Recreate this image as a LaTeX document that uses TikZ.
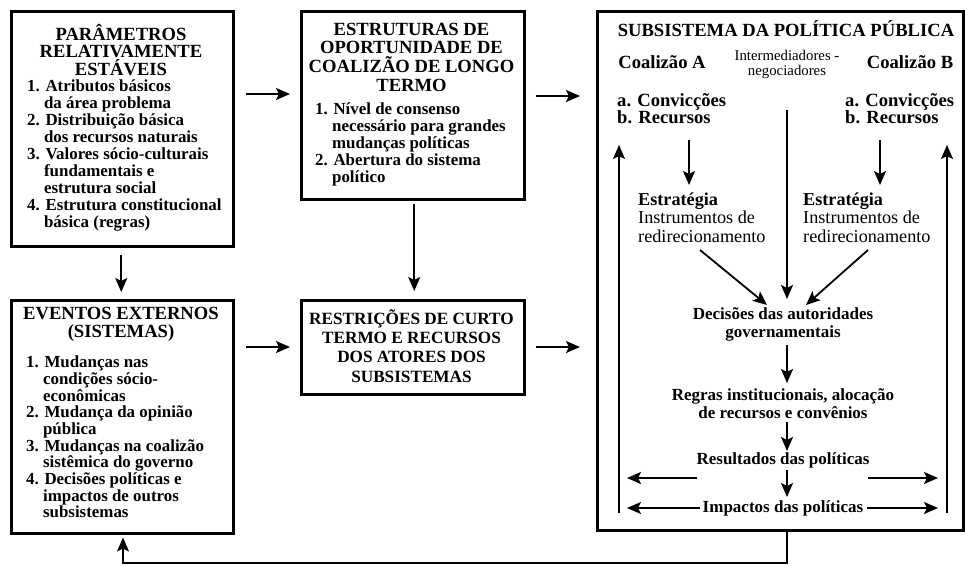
\documentclass[tikz,border=0pt]{standalone}
\usepackage{fontspec}
\setmainfont{Liberation Serif}
\usetikzlibrary{arrows.meta,calc}
\newcommand{\fsz}[2]{\fontsize{#1}{#2}\selectfont}
\newcommand{\lind}{\hphantom{1.~}}
\begin{document}
\begin{tikzpicture}[x=1pt,y=-1pt,
  boxn/.style={draw,line width=2.5pt,rectangle,anchor=north west,inner sep=0pt},
  arr/.style={line width=1.8pt,-{Stealth[length=14pt,width=12pt,inset=3pt]}},
  ttl/.style={font={\bfseries\fsz{18.6}{17.5}},align=center,inner sep=0pt},
  lst/.style={font={\bfseries\fsz{16.9}{16.9}},align=left,inner sep=0pt,anchor=west},
  rb/.style={font={\bfseries\fsz{18.6}{17}},align=left,inner sep=0pt},
  strat/.style={font={\fsz{18.2}{18.5}},align=left,inner sep=0pt,anchor=west},
  flow/.style={font={\bfseries\fsz{17}{17.5}},align=center,inner sep=0pt},
  small/.style={font={\fsz{14.8}{15}},align=center,inner sep=0pt}
]
\useasboundingbox (0,0) rectangle (965,565);

% boxes
\node[boxn,minimum width=222pt,minimum height=235pt] (b1) at (10,10) {};
\node[boxn,minimum width=223pt,minimum height=188pt] (b2) at (300,10) {};
\node[boxn,minimum width=223pt,minimum height=94pt] (b3) at (300,299) {};
\node[boxn,minimum width=222pt,minimum height=233pt] (b4) at (10,299) {};
\node[boxn,minimum width=366pt,minimum height=519pt] (b5) at (596,10) {};

% box 1
\node[ttl] (t1) at (121,50) {PARÂMETROS\\RELATIVAMENTE\\ESTÁVEIS};
\node[lst] (l1) at (27,155.5) {1. Atributos básicos\\
\lind da área problema\\
2. Distribuição básica\\
\lind dos recursos naturais\\
3. Valores sócio-culturais\\
\lind fundamentais e\\
\lind estrutura social\\
4. Estrutura constitucional\\
\lind básica (regras)};

% box 2
\node[ttl,font={\bfseries\fsz{18.6}{18.7}}] (t2) at (411.5,57) {ESTRUTURAS DE\\OPORTUNIDADE DE\\COALIZÃO DE LONGO\\TERMO};
\node[lst,font={\bfseries\fsz{16.9}{17}}] (l2) at (315,144) {1. Nível de consenso\\
\lind necessário para grandes\\
\lind mudanças políticas\\
2. Abertura do sistema\\
\lind político};

% box 3
\node[ttl,font={\bfseries\fsz{17.2}{19.3}}] (t3) at (411.5,346) {RESTRIÇÕES DE CURTO\\TERMO E RECURSOS\\DOS ATORES DOS\\SUBSISTEMAS};

% box 4
\node[ttl,font={\bfseries\fsz{18.6}{18}}] (t4) at (121,324) {EVENTOS EXTERNOS\\(SISTEMAS)};
\node[lst,font={\bfseries\fsz{16.9}{16.7}}] (l4) at (26,437) {1. Mudanças nas\\
\lind condições sócio-\\
\lind econômicas\\
2. Mudança da opinião\\
\lind pública\\
3. Mudanças na coalizão\\
\lind sistêmica do governo\\
4. Decisões políticas e\\
\lind impactos de outros\\
\lind subsistemas};

% arrows between boxes
\draw[arr] ($(b1.north east)+(11,84)$) -- ($(b2.north west)+(-10,84)$);
\draw[arr] ($(b2.north east)+(10,86)$) -- ($(b5.north west)+(-16,86)$);
\draw[arr] ($(b1.south)+(-1,7)$) -- ($(b4.north)+(-1,-7)$);
\draw[arr] ($(b2.south)+(1.5,3)$) -- ($(b3.north)+(1.5,-8)$);
\draw[arr] ($(b4.north east)+(11,48)$) -- ($(b3.north west)+(-10,48)$);
\draw[arr] ($(b3.north east)+(10,48)$) -- ($(b5.north west)+(-16,337)$);

% feedback loop
\coordinate (fb1) at (787,563);
\coordinate (fb2) at (123,563);
\draw[arr] (b5.south -| fb1) -- (fb1) -- (fb2) -- ($(b4.south -| fb2)+(0,3)$);

% right box content
\node[ttl] (t5) at (786,29) {SUBSISTEMA DA POLÍTICA PÚBLICA};
\node[rb] (cA) at (662,62) {Coalizão A};
\node[small] (im) at (787,64.5) {Intermediadores -\\negociadores};
\node[rb] (cB) at (910,62) {Coalizão B};
\node[rb,anchor=west] (rA) at (617,108.5) {a. Convicções\\b. Recursos};
\node[rb,anchor=west] (rB) at (845,108.5) {a. Convicções\\b. Recursos};
\node[strat] (eA) at (638,217.5) {\textbf{Estratégia}\\Instrumentos de\\redirecionamento};
\node[strat] (eB) at (803,217.5) {\textbf{Estratégia}\\Instrumentos de\\redirecionamento};
\node[flow,font={\bfseries\fsz{17}{18}}] (dec) at (783,324) {Decisões das autoridades\\governamentais};
\node[flow] (reg) at (783,403.5) {Regras institucionais, alocação\\de recursos e convênios};
\node[flow] (res) at (783,460) {Resultados das políticas};
\node[flow] (imp) at (783,508) {Impactos das políticas};

\coordinate (aA1) at (689,140); \coordinate (aA2) at (689,185);
\coordinate (aB1) at (880,140); \coordinate (aB2) at (880,185);
\draw[arr] (aA1) -- (aA2);
\draw[arr] (aB1) -- (aB2);
\coordinate (mid1) at (787,110); \coordinate (mid2) at (787,299);
\draw[arr] (mid1) -- (mid2);
\coordinate (dA1) at (700,250); \coordinate (dA2) at (767,305);
\coordinate (dB1) at (868,250); \coordinate (dB2) at (806,305);
\draw[arr] (dA1) -- (dA2);
\draw[arr] (dB1) -- (dB2);
\draw[arr] (787,345) -- (787,383);
\draw[arr] (787,422) -- (787,451);
\draw[arr] (787,470) -- (787,497);
\coordinate (rl1) at (697,478); \coordinate (rl2) at (627,478);
\coordinate (rr1) at (868,478); \coordinate (rr2) at (938,478);
\draw[arr] (rl1) -- (rl2);
\draw[arr] (rr1) -- (rr2);
\coordinate (il) at (627,508); \coordinate (ir) at (938,508);
\draw[arr] ([xshift=-3pt]imp.west) -- (il);
\draw[arr] ([xshift=3pt]imp.east) -- (ir);
\coordinate (ul1) at (619,513); \coordinate (ul2) at (619,145);
\coordinate (ur1) at (947,513); \coordinate (ur2) at (947,145);
\draw[arr] (ul1) -- (ul2);
\draw[arr] (ur1) -- (ur2);
\end{tikzpicture}
\end{document}
